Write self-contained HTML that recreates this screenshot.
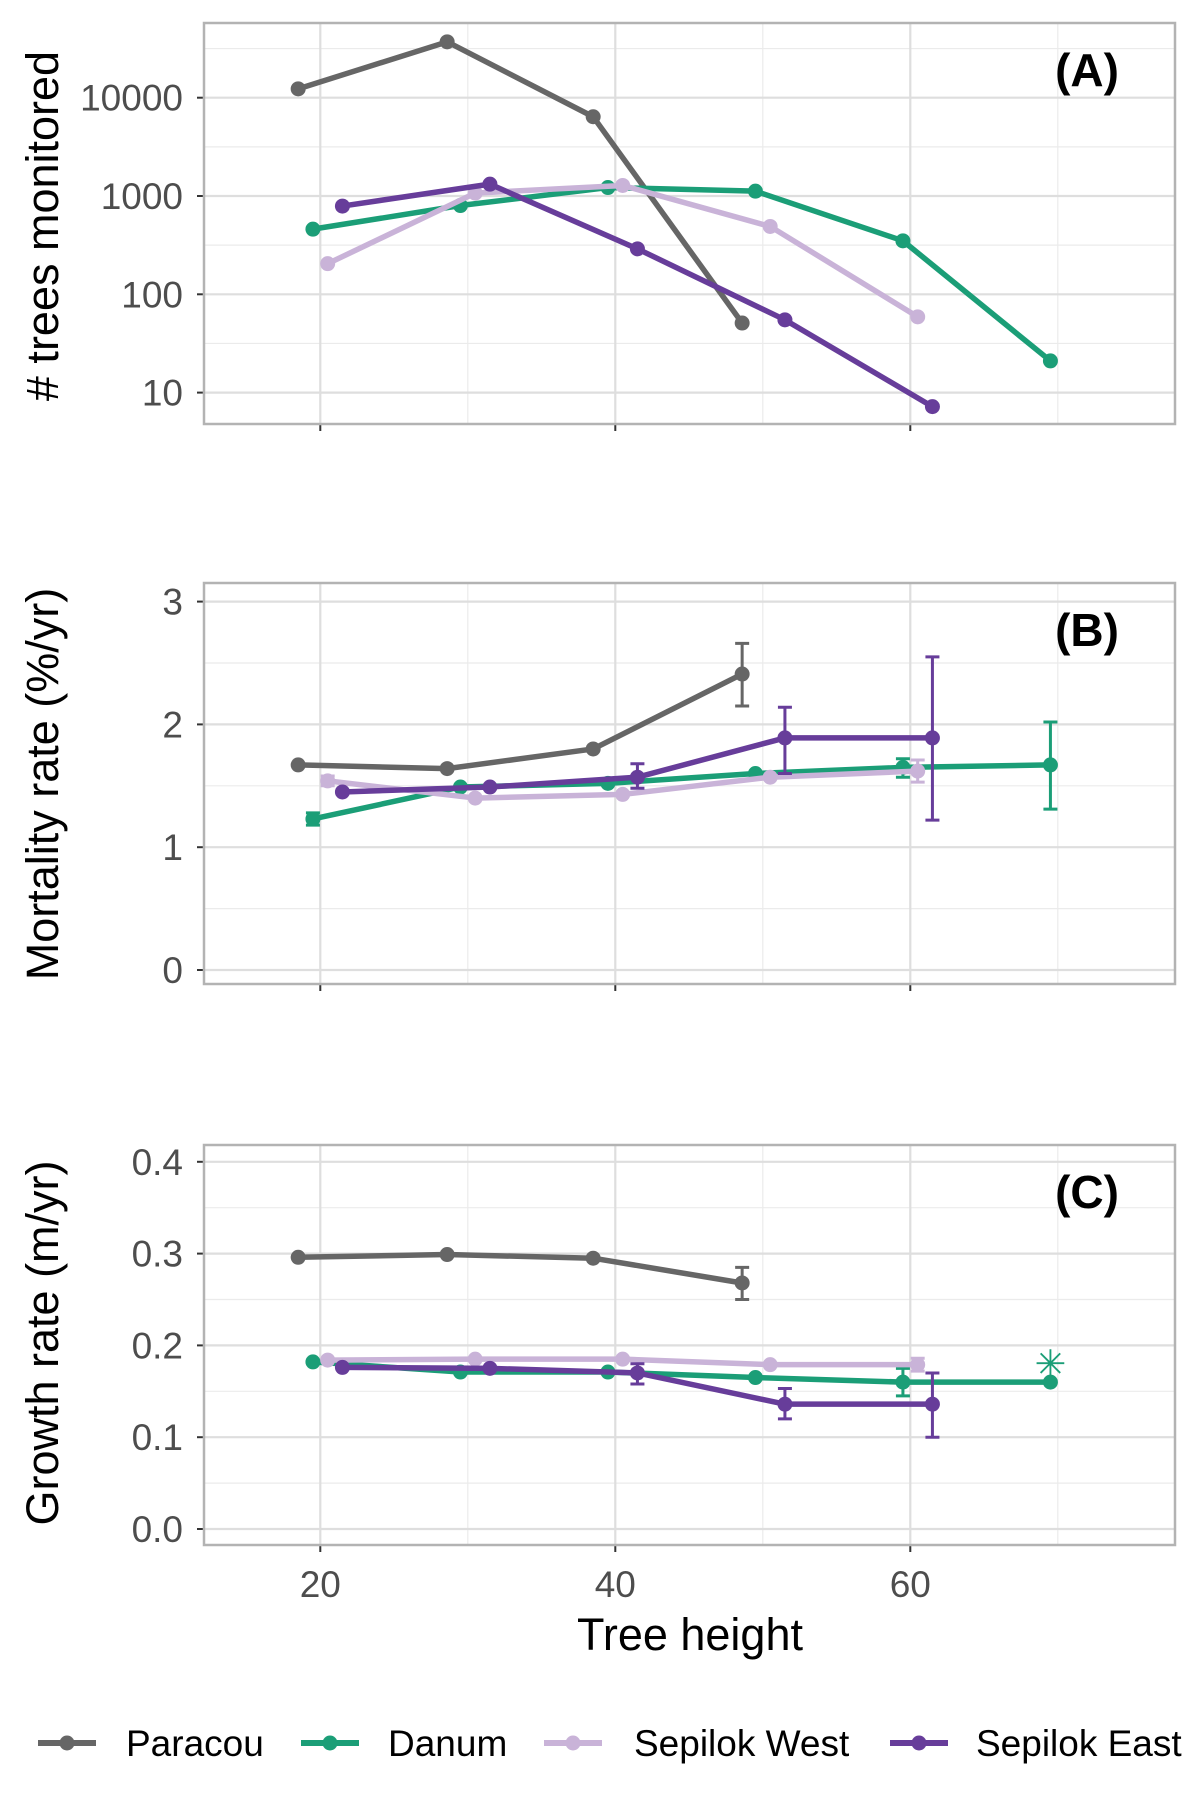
<!DOCTYPE html>
<html><head><meta charset="utf-8"><style>
html,body{margin:0;padding:0;background:#fff;}
svg{display:block;font-family:"Liberation Sans",sans-serif;}
</style></head><body>
<svg id="chart" width="1200" height="1800" viewBox="0 0 1200 1800" xmlns="http://www.w3.org/2000/svg"></svg>
<script>
const series = ["Paracou","Danum","Sepilok West","Sepilok East"];
const colors = ["#666666","#1b9e77","#c9b3d8","#673d9a"];
const xP = [18.5,28.6,38.5,48.6];
const xD = [19.5,29.5,39.5,49.5,59.5,69.5];
const xW = [20.5,30.5,40.5,50.5,60.5];
const xE = [21.5,31.5,41.5,51.5,61.5];
// Panel A counts
const nP = [12300,37000,6400,51];
const nD = [460,800,1220,1120,350,21];
const nW = [205,1070,1280,490,59];
const nE = [790,1320,290,55,7.2];
// Panel B mortality
const mP = [1.67,1.64,1.80,2.41];
const mPlo = [null,null,null,2.15];
const mPhi = [null,null,null,2.66];
const mD = [1.23,1.49,1.52,1.60,1.65,1.67];
const mDlo = [1.18,null,null,null,1.57,1.31];
const mDhi = [1.28,null,null,null,1.72,2.02];
const mW = [1.54,1.40,1.43,1.57,1.62];
const mWlo = [1.50,null,null,null,1.53];
const mWhi = [1.58,null,null,null,1.71];
const mE = [1.45,1.49,1.57,1.89,1.89];
const mElo = [null,null,1.48,1.60,1.22];
const mEhi = [null,null,1.68,2.14,2.55];
// Panel C growth
const gP = [0.296,0.299,0.295,0.268];
const gPlo = [null,null,null,0.250];
const gPhi = [null,null,null,0.285];
const gD = [0.182,0.171,0.171,0.165,0.160,0.160];
const gDlo = [null,null,null,null,0.145,null];
const gDhi = [null,null,null,null,0.175,null];
const gW = [0.184,0.185,0.185,0.179,0.179];
const gWlo = [null,null,null,null,0.172];
const gWhi = [null,null,null,null,0.186];
const gE = [0.176,0.175,0.170,0.136,0.136];
const gElo = [null,null,0.158,0.120,0.100];
const gEhi = [null,null,0.180,0.153,0.170];
const xTicks = [20,40,60];
const yTicksA = [10,100,1000,10000];
const yTicksB = [0,1,2,3];
const yTicksC = [0.0,0.1,0.2,0.3,0.4];

const NS="http://www.w3.org/2000/svg";
const svg=document.getElementById('chart');
function el(t,a,p){const e=document.createElementNS(NS,t);for(const k in a)e.setAttribute(k,a[k]);(p||svg).appendChild(e);return e;}
const L=204,R=1175;
const x=v=>320.3+(v-20)*14.75;
const panels=[
 {name:'a',top:23,bot:424,y:v=>392.6-(Math.log10(v)-1)*98.3,ticks:yTicksA,minor:[Math.sqrt(10),Math.sqrt(10)*10,Math.sqrt(10)*100,Math.sqrt(10)*1000,Math.sqrt(10)*10000],fmt:v=>String(v),title:'# trees monitored',label:'(A)',ty:226},
 {name:'b',top:583,bot:984,y:v=>970-v*122.8,ticks:yTicksB,minor:[0.5,1.5,2.5],fmt:v=>String(v),title:'Mortality rate (%/yr)',label:'(B)',ty:784},
 {name:'c',top:1145,bot:1545,y:v=>1529-v*918,ticks:yTicksC,minor:[0.05,0.15,0.25,0.35],fmt:v=>v.toFixed(1),title:'Growth rate (m/yr)',label:'(C)',ty:1343}
];
const xs=[xP,xD,xW,xE];
const data=[[nP,nD,nW,nE],[mP,mD,mW,mE],[gP,gD,gW,gE]];
const lo=[null,[mPlo,mDlo,mWlo,mElo],[gPlo,gDlo,gWlo,gElo]];
const hi=[null,[mPhi,mDhi,mWhi,mEhi],[gPhi,gDhi,gWhi,gEhi]];
panels.forEach((p,pi)=>{
  const g=el('g',{});
  
  
  el('rect',{x:L,y:p.top,width:R-L,height:p.bot-p.top,fill:'#fff'},g);
  p.minor.forEach(v=>{const yy=p.y(v);if(yy>p.top&&yy<p.bot)el('line',{x1:L,x2:R,y1:yy,y2:yy,stroke:'#ebebeb','stroke-width':1.2},g);});
  [30,50,70].forEach(v=>el('line',{x1:x(v),x2:x(v),y1:p.top,y2:p.bot,stroke:'#ebebeb','stroke-width':1.2},g));
  p.ticks.forEach(v=>{const yy=p.y(v);
    el('line',{x1:L,x2:R,y1:yy,y2:yy,stroke:'#dedede','stroke-width':2.2},g);
    el('line',{x1:L-7,x2:L,y1:yy,y2:yy,stroke:'#333','stroke-width':2},g);
    const t=el('text',{x:L-21,y:yy+13,'text-anchor':'end','font-size':37,fill:'#4d4d4d'},g);t.textContent=p.fmt(v);
    });
  xTicks.forEach(v=>{el('line',{x1:x(v),x2:x(v),y1:p.top,y2:p.bot,stroke:'#dedede','stroke-width':2.2},g);
    el('line',{x1:x(v),x2:x(v),y1:p.bot,y2:p.bot+7,stroke:'#333','stroke-width':2},g);});
  el('rect',{x:L,y:p.top,width:R-L,height:p.bot-p.top,fill:'none',stroke:'#b3b3b3','stroke-width':2.5},g);
  const tt=el('text',{transform:`translate(58,${p.ty}) rotate(-90)`,'text-anchor':'middle','font-size':45,fill:'#000'},g);
  tt.textContent=p.title;
  const lb=el('text',{x:1087,y:p.top+63,'text-anchor':'middle','font-size':46,'font-weight':'bold',fill:'#000'},g);
  lb.textContent=p.label;
  data[pi].forEach((vals,si)=>{
    const sg=el('g',{},g);
    
    
    const pts=vals.map((v,i)=>x(xs[si][i])+','+p.y(v)).join(' ');
    el('polyline',{points:pts,fill:'none',stroke:colors[si],'stroke-width':5.5,'stroke-linejoin':'round'},sg);
    if(lo[pi]){vals.forEach((v,i)=>{const a=lo[pi][si][i],b=hi[pi][si][i];if(a==null)return;
      const cx=x(xs[si][i]);
      const eb=el('path',{d:`M${cx},${p.y(a)}V${p.y(b)}M${cx-7},${p.y(a)}H${cx+7}M${cx-7},${p.y(b)}H${cx+7}`,stroke:colors[si],'stroke-width':3,fill:'none'},sg);
      });}
    vals.forEach((v,i)=>{const c=el('circle',{cx:x(xs[si][i]),cy:p.y(v),r:7.5,fill:colors[si]},sg);
      });
  });
});
const st=el('text',{x:x(69.5),y:panels[2].y(0.18)+13,'text-anchor':'middle','font-size':38,fill:'#1b9e77'});
st.textContent='✳';


xTicks.forEach(v=>{const t=el('text',{x:x(v),y:1597,'text-anchor':'middle','font-size':37,fill:'#4d4d4d'});t.textContent=v;
  
  });
const xt=el('text',{x:690,y:1650,'text-anchor':'middle','font-size':45,fill:'#000'});xt.textContent='Tree height';


const legX=[38,301,544,890],legT=[126,388,634,976];
series.forEach((s,i)=>{const g=el('g',{});
  
  
  el('line',{x1:legX[i],x2:legX[i]+58,y1:1743,y2:1743,stroke:colors[i],'stroke-width':6},g);
  el('circle',{cx:legX[i]+29,cy:1743,r:7.5,fill:colors[i]},g);
  const t=el('text',{x:legT[i],y:1756,'font-size':37,fill:'#000'},g);t.textContent=s;});
</script>
</body></html>
